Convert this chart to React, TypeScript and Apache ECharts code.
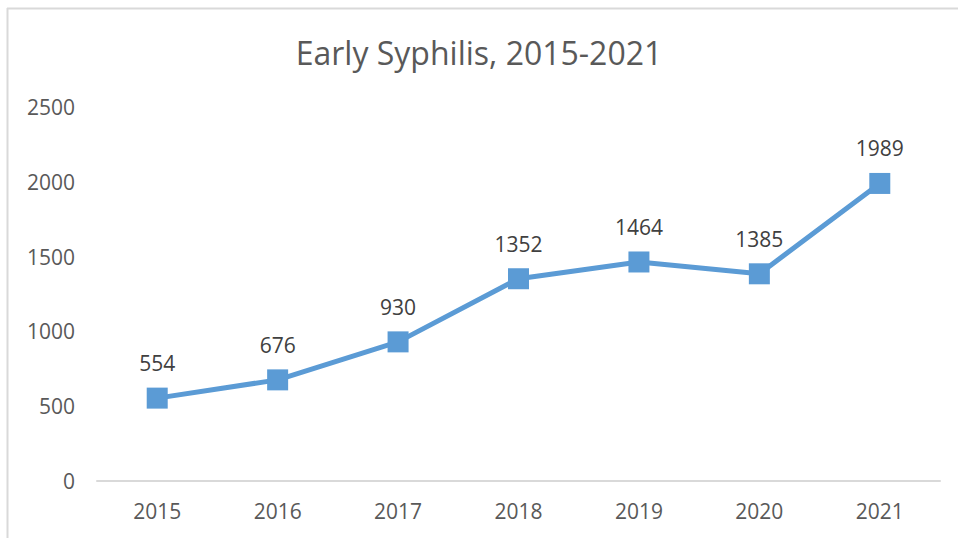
import React, { useEffect, useRef } from "react";
import * as echarts from "echarts";

const years = ["2015", "2016", "2017", "2018", "2019", "2020", "2021"];
const cases = [554, 676, 930, 1352, 1464, 1385, 1989];
const titleText = "Early Syphilis, 2015-2021";

export default function App() {
  const ref = useRef<HTMLDivElement>(null);
  useEffect(() => {
    if (!ref.current) return;
    const chart = echarts.init(ref.current, null, { renderer: "svg" });
    chart.setOption({
      animation: false,
      backgroundColor: "#ffffff",
      title: {
        text: titleText,
        left: "center",
        top: 31,
        textStyle: { fontFamily: "Open Sans", fontSize: 32, fontWeight: "normal", color: "#595959" },
      },
      grid: { left: 97, right: 18, top: 107, bottom: 57 },
      xAxis: {
        type: "category",
        data: years,
        boundaryGap: true,
        axisLine: { lineStyle: { color: "#d9d9d9", width: 2 } },
        axisTick: { show: false },
        axisLabel: { color: "#595959", fontFamily: "Open Sans", fontSize: 21, margin: 19 },
      },
      yAxis: {
        type: "value",
        min: 0,
        max: 2500,
        interval: 500,
        axisLine: { show: false },
        axisTick: { show: false },
        splitLine: { show: false },
        axisLabel: {
          color: "#595959",
          fontFamily: "Open Sans",
          fontSize: 21,
          margin: 22,
          formatter: (v: number) => String(v),
        },
      },
      series: [
        {
          type: "line",
          data: cases,
          symbol: "rect",
          symbolSize: 21,
          lineStyle: { color: "#5b9bd5", width: 5 },
          itemStyle: { color: "#5b9bd5" },
          label: {
            show: true,
            position: "top",
            distance: 14,
            color: "#404040",
            fontFamily: "Open Sans",
            fontSize: 21,
          },
        },
      ],
      graphic: [
        { type: "line", shape: { x1: 7.5, y1: 8, x2: 7.5, y2: 538 }, style: { stroke: "#d9d9d9", lineWidth: 2 } },
        { type: "line", shape: { x1: 7, y1: 8.5, x2: 958, y2: 8.5 }, style: { stroke: "#d9d9d9", lineWidth: 2 } },
      ],
    });
    return () => chart.dispose();
  }, []);
  return (
    <div
      ref={ref}
      style={{ position: "fixed", left: 0, top: 0, width: 958, height: 538 }}
    />
  );
}
